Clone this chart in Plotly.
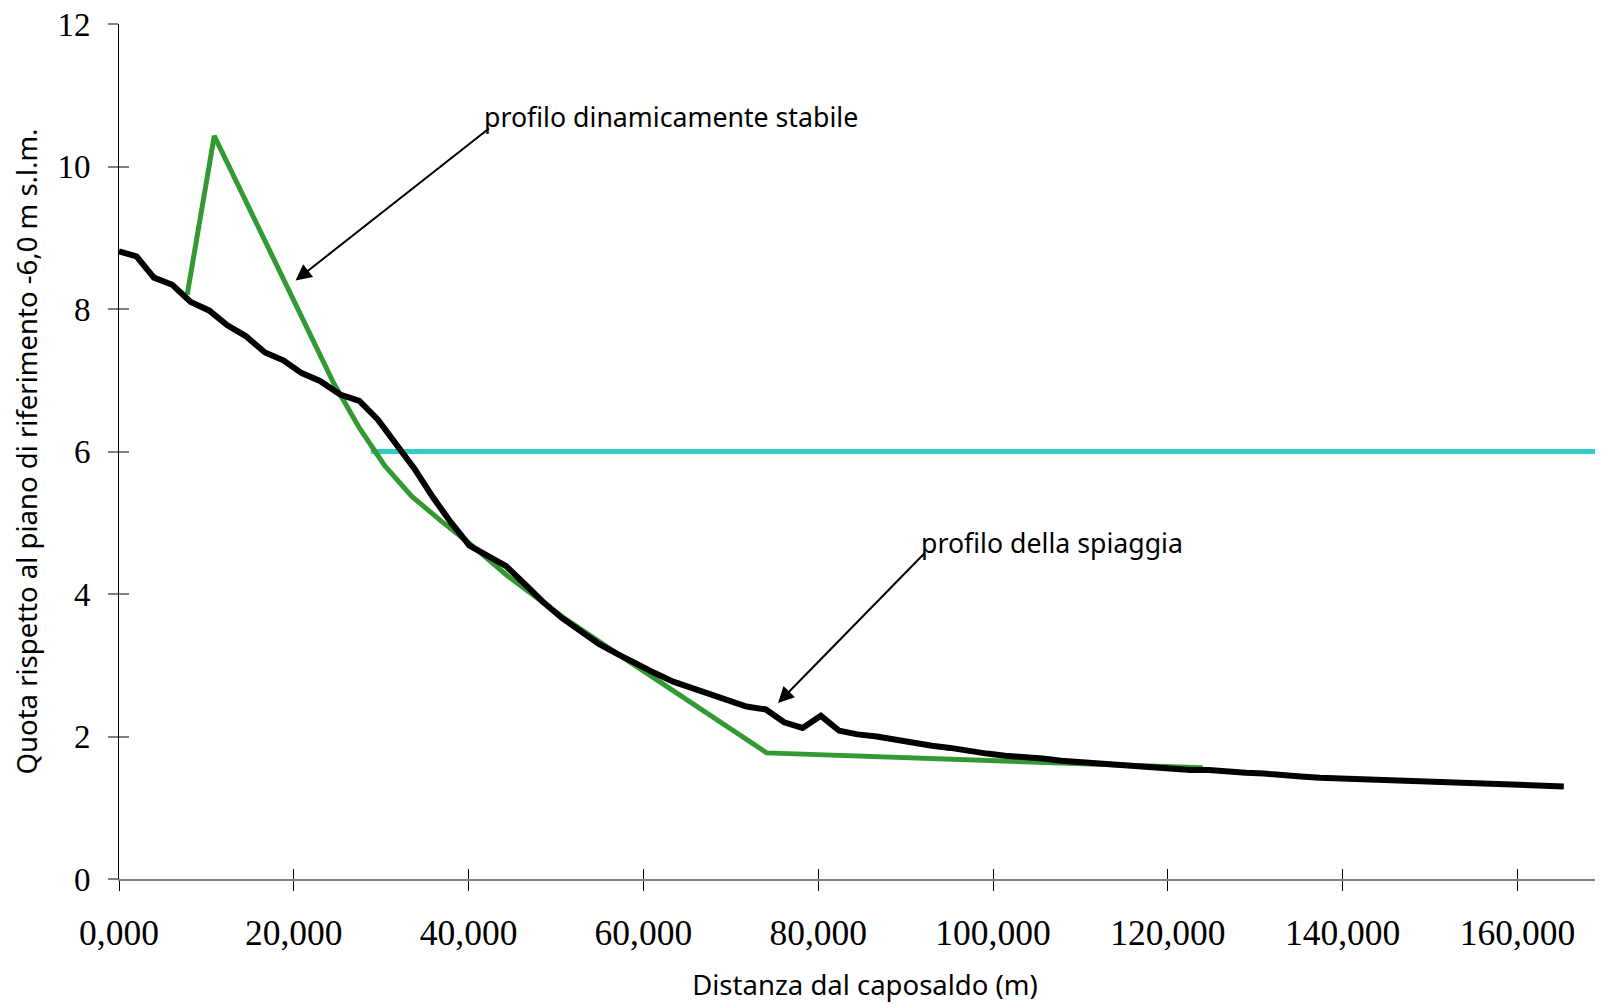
import plotly.graph_objects as go

# Beach profile (black)
beach_x = [0, 2.0, 4.0, 6.1, 8.2, 10.3, 12.4, 14.5, 16.7, 18.8, 20.9, 23.0, 25.3, 27.5,
           29.6, 31.7, 33.8, 35.9, 38.0, 40.1, 42.2, 44.3, 46.5, 48.6, 50.7, 52.8, 54.9,
           57.0, 59.1, 61.3, 63.4, 65.5, 67.6, 69.7, 71.8, 74.0, 76.1, 78.2, 80.3, 82.4,
           84.5, 86.7, 88.8, 90.9, 93.0, 95.1, 97.2, 99.3, 101.4, 103.6, 105.7, 107.8,
           109.9, 112.0, 114.1, 116.2, 118.4, 120.5, 122.6, 124.7, 126.8, 128.9, 131.0,
           133.1, 135.2, 137.4, 139.5, 141.6, 143.7, 145.8, 147.9, 150.0, 152.1, 154.2,
           156.4, 158.5, 160.6, 162.7, 165.3]
beach_y = [8.81, 8.74, 8.44, 8.34, 8.10, 7.98, 7.77, 7.62, 7.39, 7.28, 7.10, 6.99, 6.80, 6.71,
           6.45, 6.10, 5.76, 5.36, 5.00, 4.68, 4.54, 4.39, 4.13, 3.88, 3.66, 3.47, 3.30,
           3.16, 3.02, 2.89, 2.77, 2.68, 2.59, 2.51, 2.42, 2.38, 2.20, 2.12, 2.29, 2.08,
           2.03, 2.00, 1.95, 1.91, 1.87, 1.84, 1.79, 1.76, 1.73, 1.72, 1.69, 1.66,
           1.64, 1.62, 1.60, 1.57, 1.56, 1.55, 1.53, 1.53, 1.50, 1.49, 1.48,
           1.45, 1.44, 1.42, 1.41, 1.41, 1.40, 1.39, 1.38, 1.36, 1.35, 1.34,
           1.33, 1.32, 1.32, 1.31, 1.30]

# Dynamically stable profile (green)
stable_x = [7.8, 10.9, 24.6, 27.5, 30.4, 33.5, 36.8, 40.0, 44.5, 50.6, 55.2, 74.1, 124.0]
stable_y = [8.20, 10.43, 6.95, 6.33, 5.80, 5.37, 5.03, 4.72, 4.25, 3.69, 3.31, 1.77, 1.56]

# Reference level (cyan)
level_x = [28.8, 171]
level_y = [6.0, 6.0]

x_tickvals = [0, 20, 40, 60, 80, 100, 120, 140, 160]
x_ticktext = ["0,000", "20,000", "40,000", "60,000", "80,000", "100,000", "120,000", "140,000", "160,000"]
y_tickvals = [0, 2, 4, 6, 8, 10, 12]

X_RANGE = [0, 170.7]
Y_RANGE = [0, 12]

SANS = "Tahoma, Noto Sans, sans-serif"
SERIF = "Liberation Serif, Times New Roman, serif"

fig = go.Figure()
fig.add_trace(go.Scatter(x=level_x, y=level_y, mode="lines",
                         line=dict(color="#33CCCC", width=5), hoverinfo="skip"))
fig.add_trace(go.Scatter(x=stable_x, y=stable_y, mode="lines",
                         line=dict(color="#339933", width=5), hoverinfo="skip"))
fig.add_trace(go.Scatter(x=beach_x, y=beach_y, mode="lines",
                         line=dict(color="black", width=6), hoverinfo="skip"))
# invisible trace on the overlay axes so they are drawn
fig.add_trace(go.Scatter(x=[X_RANGE[0]], y=[Y_RANGE[0]], mode="markers",
                         marker=dict(opacity=0), xaxis="x2", yaxis="y2", hoverinfo="skip"))

fig.update_layout(
    width=1603, height=1004,
    margin=dict(l=111, r=0, t=16, b=133),
    paper_bgcolor="white", plot_bgcolor="white",
    showlegend=False,
    xaxis=dict(range=X_RANGE, tickvals=x_tickvals, ticktext=x_ticktext,
               showgrid=False, zeroline=False, showline=True, linecolor="#808080", linewidth=2,
               ticks="outside", ticklen=10, tickcolor="black", tickwidth=1,
               tickfont=dict(family=SERIF, size=35.5, color="black"),
               ticklabelstandoff=11, ticklabeloverflow="allow",
               title=dict(text="Distanza dal caposaldo (m)", standoff=24,
                          font=dict(family=SANS, size=27.5, color="black"))),
    yaxis=dict(range=Y_RANGE, tickvals=y_tickvals,
               showgrid=False, zeroline=False, showline=True, linecolor="black", linewidth=1,
               ticks="outside", ticklen=10, tickcolor="#808080", tickwidth=2,
               tickfont=dict(family=SERIF, size=33, color="black"),
               ticklabelstandoff=11, ticklabeloverflow="allow",
               title=dict(text="Quota rispetto al piano di riferimento -6,0 m s.l.m.", standoff=16,
                          font=dict(family=SANS, size=27.5, color="black"))),
    xaxis2=dict(range=X_RANGE, overlaying="x", tickvals=x_tickvals, showticklabels=False,
                showgrid=False, zeroline=False, showline=False,
                ticks="inside", ticklen=10, tickcolor="black", tickwidth=1),
    yaxis2=dict(range=Y_RANGE, overlaying="y", tickvals=y_tickvals, showticklabels=False,
                showgrid=False, zeroline=False, showline=False,
                ticks="inside", ticklen=10, tickcolor="#808080", tickwidth=2),
)

annotations = [
    dict(x=41.5, y=10.70, xref="x", yref="y", text="profilo dinamicamente stabile",
         showarrow=False, xanchor="left", yanchor="middle",
         font=dict(family=SANS, size=26.7, color="black")),
    dict(x=91.5, y=4.72, xref="x", yref="y", text="profilo della spiaggia",
         showarrow=False, xanchor="left", yanchor="middle",
         font=dict(family=SANS, size=26.7, color="black")),
    dict(x=20.2, y=8.40, ax=42.5, ay=10.55, xref="x", yref="y", axref="x", ayref="y",
         text="", showarrow=True, arrowhead=2, arrowsize=1.6, arrowwidth=2, arrowcolor="black"),
    dict(x=75.4, y=2.47, ax=92.3, ay=4.59, xref="x", yref="y", axref="x", ayref="y",
         text="", showarrow=True, arrowhead=2, arrowsize=1.6, arrowwidth=2, arrowcolor="black"),
]
fig.update_layout(annotations=annotations)

fig.write_html("out.html")
